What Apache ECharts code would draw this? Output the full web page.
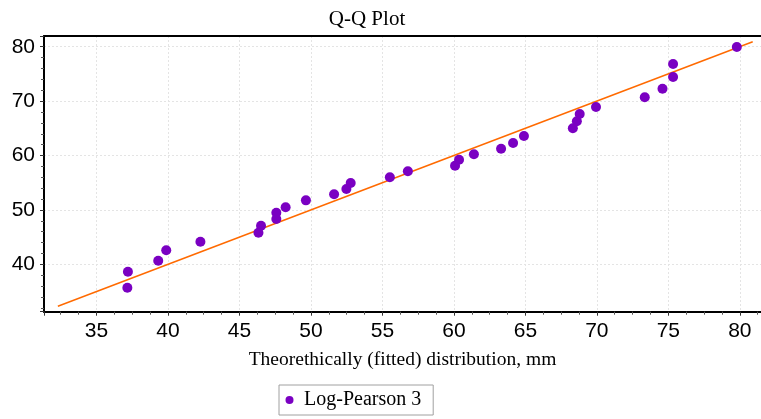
<!DOCTYPE html>
<html><head><meta charset="utf-8">
<script src="https://cdn.jsdelivr.net/npm/echarts@6/dist/echarts.min.js"></script>
<style>html,body{margin:0;padding:0;background:#fff}#c{width:761px;height:419px}</style>
</head><body><div id="c"></div>
<script>
const theoretical = [37.2,37.16,39.32,39.88,42.27,46.33,46.51,47.58,47.58,48.23,49.65,51.62,52.48,52.78,55.52,56.78,60.08,60.36,61.4,63.3,64.14,64.9,68.32,68.6,68.8,69.94,73.35,74.59,75.33,75.33,79.79];
const observed = [38.64,35.7,40.66,42.57,44.15,45.81,47.1,49.49,48.33,50.48,51.76,52.87,53.84,54.94,56.0,57.1,58.12,59.23,60.22,61.25,62.3,63.58,65.0,66.29,67.63,68.92,70.7,72.28,74.43,76.82,79.95];
const fitLine = [[32.3,32.3],[80.9,80.9]];
const seriesName = 'Log-Pearson 3';
const xRange = [31.33, 81.48];
const yRange = [31.29, 81.97];

const pts = theoretical.map((x,i)=>[x, observed[i]]);
const chart = echarts.init(document.getElementById('c'));
const axisLineStyle = {color:'#000', width:2};
chart.setOption({
  animation:false,
  backgroundColor:'#fff',
  title:{text:'Q-Q Plot', left:362, top:4, textAlign:'center',
    textStyle:{fontFamily:'Liberation Serif', fontSize:21, fontWeight:'normal', color:'#000'}},
  grid:{left:44, top:36, right:-3, bottom:107.3, containLabel:false},
  legend:{show:true, left:279, top:385, orient:'horizontal',
    data:[{name:seriesName, icon:'circle'}],
    itemWidth:19, itemHeight:8, padding:[5,12,5,6.5],
    borderColor:'#a0a0a0', borderWidth:1,
    textStyle:{fontFamily:'Liberation Serif', fontSize:20, color:'#000'}},
  xAxis:[{type:'value', min:xRange[0], max:xRange[1], splitNumber:10,
    name:'Theorethically (fitted) distribution, mm', nameLocation:'middle', nameGap:38,
    nameTextStyle:{fontFamily:'Liberation Serif', fontSize:19.5, color:'#000'},
    axisLine:{show:true, onZero:false, lineStyle:axisLineStyle},
    axisTick:{show:true, length:4, lineStyle:{color:'#333'}},
    minorTick:{show:true, splitNumber:4, length:3, lineStyle:{color:'#555'}},
    axisLabel:{showMinLabel:false, showMaxLabel:false, margin:9, fontFamily:'Liberation Sans', fontSize:21, color:'#000'},
    splitLine:{show:true, lineStyle:{color:'#e4e4e4', type:[2,2], width:1}}
  },{type:'value', position:'top', min:xRange[0], max:xRange[1],
    axisLine:{show:true, onZero:false, lineStyle:axisLineStyle},
    axisTick:{show:false}, axisLabel:{show:false}, splitLine:{show:false}}],
  yAxis:{type:'value', min:yRange[0], max:yRange[1], splitNumber:5,
    axisLine:{show:true, onZero:false, lineStyle:axisLineStyle},
    axisTick:{show:true, length:4, lineStyle:{color:'#333'}},
    minorTick:{show:true, splitNumber:5, length:3, lineStyle:{color:'#555'}},
    axisLabel:{showMinLabel:false, showMaxLabel:false, margin:9, fontFamily:'Liberation Sans', fontSize:21, color:'#000'},
    splitLine:{show:true, lineStyle:{color:'#e4e4e4', type:[2,2], width:1}}
  },
  series:[
    {type:'line', data:fitLine, showSymbol:false, symbol:'none', silent:true,
      lineStyle:{color:'#ff6a00', width:1.5}, z:2, legendHoverLink:false},
    {name:seriesName, type:'scatter', data:pts, symbol:'circle', symbolSize:10,
      itemStyle:{color:'#7a00c2', opacity:1}, z:3}
  ]
});
</script></body></html>
